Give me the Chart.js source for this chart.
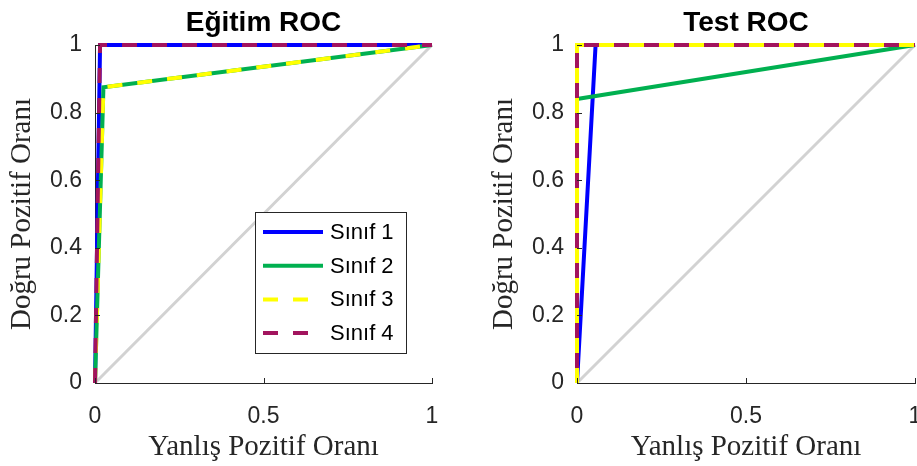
<!DOCTYPE html>
<html>
<head>
<meta charset="utf-8">
<script src="https://cdn.jsdelivr.net/npm/chart.js@4.4.0/dist/chart.umd.min.js"></script>
<style>
  html, body { margin: 0; padding: 0; background: #fff; overflow: hidden; }
  #wrap { position: relative; width: 917px; height: 466px; overflow: hidden; }
  canvas { position: absolute; top: 0; }
</style>
</head>
<body>
<div id="wrap">
  <canvas id="train-roc" width="450" height="466" style="left:0px"></canvas>
  <canvas id="test-roc" width="450" height="466" style="left:482px"></canvas>
</div>
<script>
// --- data ---
const classNames = ['Sınıf 1', 'Sınıf 2', 'Sınıf 3', 'Sınıf 4'];
const xTickValues = [0, 0.5, 1];
const yTickValues = [0, 0.2, 0.4, 0.6, 0.8, 1];

// Eğitim (train) ROC, false positive rate / true positive rate per class
const trainFpr = [[0, 0.015, 1], [0, 0.025, 1], [0, 0.025, 1], [0, 0.015, 1]];
const trainTpr = [[0, 1, 1], [0, 0.875, 1], [0, 0.875, 1], [0, 1, 1]];

// Test ROC
const testFpr = [[0, 0.055, 1], [0, 0, 1], [0, 0, 1], [0, 0, 1]];
const testTpr = [[0, 1, 1], [0, 0.84, 1], [0, 1, 1], [0, 1, 1]];

// chance diagonal
const chanceFpr = [0, 1];
const chanceTpr = [0, 1];

// --- styles ---
const classColors = ['#0000ff', 'rgb(0,176,80)', '#ffff00', 'rgb(162,20,94)'];
const classDashes = [[], [], [15, 15], [15, 15]];
const axisColor = '#262626';

function toPoints(xs, ys) {
    return xs.map((x, i) => ({ x: x, y: ys[i] }));
}

// small MATLAB style ticks pointing into the plot
const innerTicks = {
    id: 'innerTicks',
    afterDraw(chart) {
        const ctx = chart.ctx;
        const area = chart.chartArea;
        const xs = chart.scales.x, ys = chart.scales.y;
        ctx.save();
        ctx.strokeStyle = axisColor;
        ctx.lineWidth = 1;
        ctx.beginPath();
        xTickValues.forEach(v => {
            const px = Math.round(xs.getPixelForValue(v)) + 0.5;
            ctx.moveTo(px, area.bottom);
            ctx.lineTo(px, area.bottom - 5);
        });
        yTickValues.forEach(v => {
            const py = Math.round(ys.getPixelForValue(v)) + 0.5;
            ctx.moveTo(area.left, py);
            ctx.lineTo(area.left + 5, py);
        });
        ctx.stroke();
        ctx.restore();
    }
};

// legend box drawn inside the plot area
const insideLegend = {
    id: 'insideLegend',
    afterDatasetsDraw(chart, args, opts) {
        if (!opts.show) return;
        const ctx = chart.ctx;
        const area = chart.chartArea;
        const x0 = area.left + 160, y0 = area.top + 167, w = 151, h = 141;
        ctx.save();
        ctx.fillStyle = '#fff';
        ctx.fillRect(x0, y0, w, h);
        ctx.strokeStyle = axisColor;
        ctx.lineWidth = 1;
        ctx.strokeRect(x0 + 0.5, y0 + 0.5, w, h);
        ctx.font = '22px "Liberation Sans", Arial, sans-serif';
        ctx.textBaseline = 'middle';
        classNames.forEach((name, i) => {
            const ds = chart.data.datasets[i];
            const y = y0 + 20 + i * 33.7;
            ctx.setLineDash(ds.borderDash || []);
            ctx.lineDashOffset = 0;
            ctx.strokeStyle = ds.borderColor;
            ctx.lineWidth = 4;
            ctx.beginPath();
            ctx.moveTo(x0 + 8, y);
            ctx.lineTo(x0 + 68, y);
            ctx.stroke();
            ctx.setLineDash([]);
            ctx.fillStyle = '#000';
            ctx.fillText(name, x0 + 75, y + 1);
        });
        ctx.restore();
    }
};

function makeRoc(canvasId, title, fpr, tpr, dashOffsets, showLegend, padRight) {
    const datasets = classNames.map((name, i) => ({
        label: name,
        data: toPoints(fpr[i], tpr[i]),
        borderColor: classColors[i],
        borderWidth: 4,
        borderDash: classDashes[i],
        borderDashOffset: dashOffsets[i],
        borderJoinStyle: 'miter',
        showLine: true,
        pointRadius: 0,
        clip: false,
        order: 4 - i
    }));
    datasets.push({
        label: 'chance',
        data: toPoints(chanceFpr, chanceTpr),
        borderColor: '#d2d2d2',
        borderWidth: 3,
        showLine: true,
        pointRadius: 0,
        clip: false,
        order: 10
    });

    return new Chart(document.getElementById(canvasId), {
        type: 'scatter',
        data: { datasets: datasets },
        plugins: [innerTicks, insideLegend],
        options: {
            responsive: false,
            animation: false,
            devicePixelRatio: 1,
            layout: { padding: { left: 0, right: padRight, top: 0, bottom: 0 } },
            plugins: {
                legend: { display: false },
                tooltip: { enabled: false },
                insideLegend: { show: showLegend },
                title: {
                    display: true,
                    text: title,
                    fullSize: false,
                    color: '#000',
                    font: { family: '"Liberation Sans", Arial, sans-serif', size: 28, weight: 'bold' },
                    padding: { top: 6, bottom: 5.4 }
                }
            },
            scales: {
                x: {
                    type: 'linear',
                    min: 0,
                    max: 1,
                    afterBuildTicks: scale => { scale.ticks = xTickValues.map(v => ({ value: v })); },
                    afterFit: scale => {
                        scale.height = 83;
                        scale.paddingLeft = 0;
                        scale.paddingRight = 0;
                    },
                    grid: { display: false, drawTicks: false },
                    border: { display: true, color: axisColor, width: 1 },
                    ticks: {
                        color: axisColor,
                        padding: 20,
                        maxRotation: 0,
                        font: { family: '"Liberation Sans", Arial, sans-serif', size: 23 },
                        callback: v => String(v)
                    },
                    title: {
                        display: true,
                        text: 'Yanlış Pozitif Oranı',
                        color: axisColor,
                        font: { family: '"Liberation Serif", "Times New Roman", serif', size: 29 },
                        padding: { top: 0, bottom: 1 }
                    }
                },
                y: {
                    type: 'linear',
                    min: 0,
                    max: 1,
                    afterBuildTicks: scale => { scale.ticks = yTickValues.map(v => ({ value: v })); },
                    afterFit: scale => {
                        scale.width = 95;
                        scale.paddingTop = 0;
                        scale.paddingBottom = 0;
                    },
                    grid: { display: false, drawTicks: false },
                    border: { display: true, color: axisColor, width: 1 },
                    ticks: {
                        color: axisColor,
                        padding: 13,
                        font: { family: '"Liberation Sans", Arial, sans-serif', size: 23 },
                        callback: v => String(v)
                    },
                    title: {
                        display: true,
                        text: 'Doğru Pozitif Oranı',
                        color: axisColor,
                        font: { family: '"Liberation Serif", "Times New Roman", serif', size: 29 },
                        padding: { top: 5, bottom: 0 }
                    }
                }
            }
        }
    });
}

// chart area: left 95..432 and 577..915 across the window
makeRoc('train-roc', 'Eğitim ROC', trainFpr, trainTpr, [0, 0, 0, 0], true, 18);
makeRoc('test-roc', 'Test ROC', testFpr, testTpr, [0, 0, 0, 15], false, 17);
</script>
</body>
</html>
